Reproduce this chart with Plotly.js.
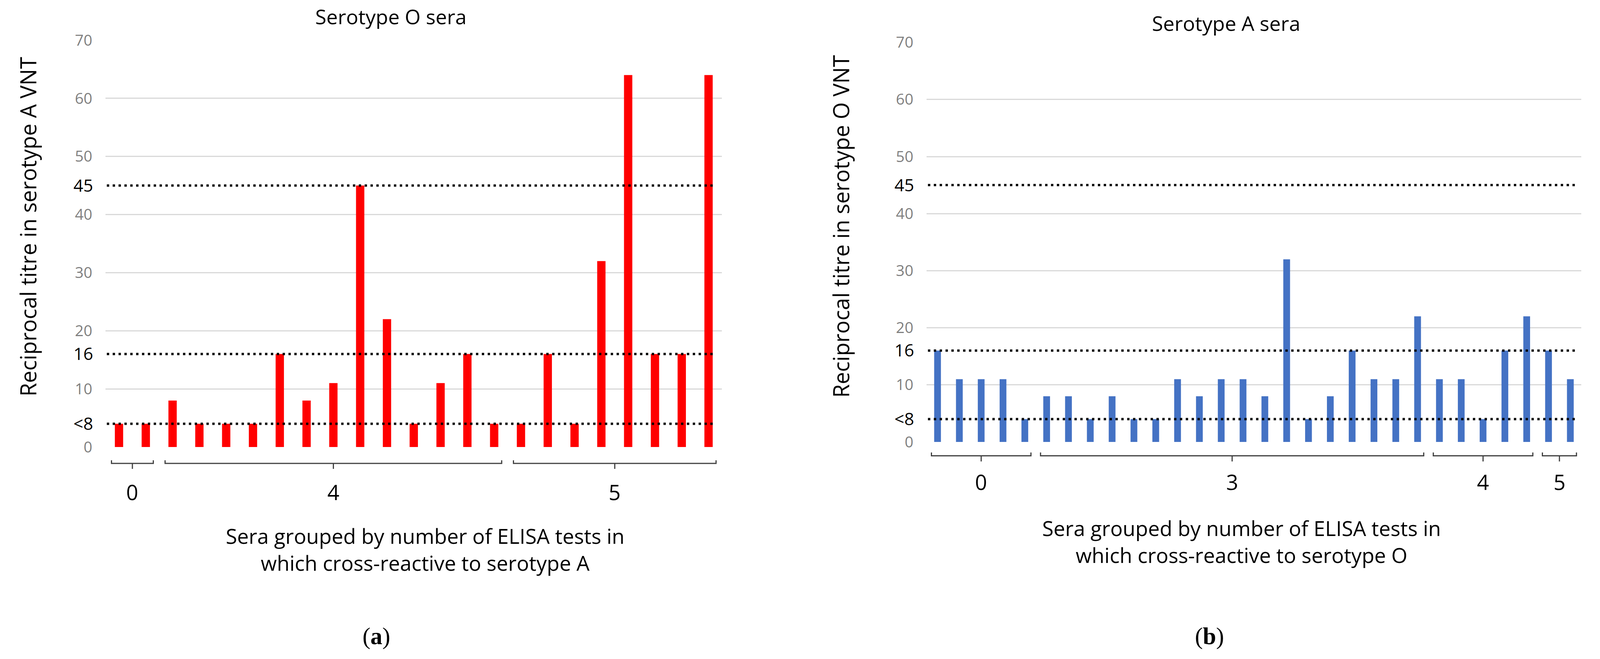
<!DOCTYPE html>
<html>
<head>
<meta charset="utf-8">
<script src="https://cdn.plot.ly/plotly-3.0.1.min.js"></script>
<style>
html,body{margin:0;padding:0;background:#fff;overflow:hidden;}
#chart{position:absolute;left:0;top:0;}
</style>
</head>
<body>
<div id="chart"></div>
<script>
// ---- data ----
const leftTitle = "Serotype O sera";
const rightTitle = "Serotype A sera";
const leftYTitle = "Reciprocal titre in serotype A VNT";
const rightYTitle = "Reciprocal titre in serotype O VNT";
const leftXTitle = "Sera grouped by number of ELISA tests in<br>which cross-reactive to serotype A";
const rightXTitle = "Sera grouped by number of ELISA tests in<br>which cross-reactive to serotype O";

// "<8" titres are plotted at the <8 reference level (4)
const leftValues = [4,4,8,4,4,4,16,8,11,45,22,4,11,16,4,4,16,4,32,64,16,16,64];
const leftGroupLabels = ["0","4","5"];
const leftGroupCounts = [2,13,8];

const rightValues = [16,11,11,11,4, 8,8,4,8,4,4,11,8,11,11,8,32,4,8,16,11,11,22, 11,11,4,16,22, 16,11];
const rightGroupLabels = ["0","3","4","5"];
const rightGroupCounts = [5,18,5,2];

const gridTicks = [0,10,20,30,40,50,60,70];
const thresholdVals = [4,16,45];
const thresholdText = ["<8","16","45"];
const yMax = 70;

// ---- layout helpers (reference frame 4182 x 1688) ----
const RW = 4182, RH = 1688;
const W = window.innerWidth || RW, H = window.innerHeight || RH;
const s = Math.min(W / RW, H / RH);
const FONT = "Open Sans, Noto Sans, sans-serif";
const px = v => v / RW;
const py = v => 1 - v / RH;
const fs = v => Math.round(v * s);

document.getElementById("chart").style.width = W + "px";
document.getElementById("chart").style.height = H + "px";

const panels = [
  {values: leftValues, counts: leftGroupCounts, labels: leftGroupLabels, color: "#FF0000",
   xd: [276, 1887], y0: 1145, y70: 103, xa: "x", ya: "y", yo: "y3",
   title: leftTitle, titleX: 1021, titleY: 41, yTitle: leftYTitle, yTitleX: 73, yTitleY: 580,
   xTitle: leftXTitle, xTitleX: 1111, xTitleY: 1407,
   brBase: 1187, brTop: 1179, brDrop: 1201, lblY: 1260, dotEnd: 0.986,
   panelLabel: "(<b>a</b>)", panelX: 984},
  {values: rightValues, counts: rightGroupCounts, labels: rightGroupLabels, color: "#4472C4",
   xd: [2422, 4133], y0: 1132, y70: 108.6, xa: "x2", ya: "y2", yo: "y4",
   title: rightTitle, titleX: 3205, titleY: 58, yTitle: rightYTitle, yTitleX: 2197, yTitleY: 580,
   xTitle: rightXTitle, xTitleX: 3245, xTitleY: 1387,
   brBase: 1167.5, brTop: 1159, brDrop: 1182, lblY: 1234, dotEnd: 0.992,
   panelLabel: "(<b>b</b>)", panelX: 3162}
];

const traces = [];
const shapes = [];
const annotations = [];
const layout = {
  width: W, height: H,
  margin: {l:0, r:0, t:0, b:0},
  paper_bgcolor: "#fff", plot_bgcolor: "#fff",
  showlegend: false,
  font: {family: FONT, color: "#000"},
  bargap: 0.69
};

panels.forEach((p, k) => {
  const n = p.values.length;
  const xs = p.values.map((_, i) => i);
  traces.push({type: "bar", x: xs, y: p.values, xaxis: p.xa, yaxis: p.ya,
    marker: {color: p.color, line: {width: 0}}, hoverinfo: "skip"});
  traces.push({type: "scatter", x: [0], y: [0], xaxis: p.xa, yaxis: p.yo,
    mode: "markers", marker: {opacity: 0}, hoverinfo: "skip"});

  const xname = k === 0 ? "xaxis" : "xaxis2";
  const yname = k === 0 ? "yaxis" : "yaxis2";
  const oname = k === 0 ? "yaxis3" : "yaxis4";
  const ydom = [py(p.y0), py(p.y70)];
  layout[xname] = {domain: [px(p.xd[0]), px(p.xd[1])], range: [-0.5, n - 0.5],
    showgrid: false, zeroline: false, showticklabels: false, showline: false, ticks: "",
    anchor: p.ya, fixedrange: true};
  layout[yname] = {domain: ydom, range: [0, yMax], anchor: p.xa,
    tickmode: "array", tickvals: gridTicks, ticktext: gridTicks.map(String),
    showgrid: true, gridcolor: "#d9d9d9", gridwidth: Math.max(2, fs(3)), zeroline: false, showline: false,
    ticks: "", ticklabelstandoff: fs(34),
    tickfont: {family: FONT, size: fs(40), color: "#7f7f7f"}, fixedrange: true};
  layout[oname] = {overlaying: p.ya, range: [0, yMax], anchor: p.xa, side: "left",
    tickmode: "array", tickvals: thresholdVals, ticktext: thresholdText,
    showgrid: false, zeroline: false, showline: false, ticks: "", ticklabelstandoff: fs(32),
    tickfont: {family: FONT, size: fs(45), color: "#000"}, fixedrange: true};

  thresholdVals.forEach(v => {
    shapes.push({type: "line", xref: p.xa + " domain", yref: p.ya,
      x0: 0.002, x1: p.dotEnd, y0: v, y1: v,
      line: {color: "#000", width: fs(6), dash: fs(6) + "px," + fs(9) + "px"}});
  });

  let start = 0;
  const pad = 0.28;
  p.counts.forEach((c, g) => {
    const a = start - pad, b = start + c - 1 + pad, m = (a + b) / 2;
    const yb = py(p.brBase), yt = py(p.brTop), yd = py(p.brDrop);
    shapes.push({type: "path", xref: p.xa, yref: "paper",
      path: `M${a},${yt} L${a},${yb} L${b},${yb} L${b},${yt} M${m},${yb} L${m},${yd}`,
      line: {color: "#404040", width: Math.max(2, fs(3))}});
    annotations.push({xref: p.xa, yref: "paper", x: m, y: py(p.lblY),
      text: p.labels[g], showarrow: false, xanchor: "center", yanchor: "middle",
      font: {family: FONT, size: fs(55), color: "#000"}});
    start += c;
  });

  annotations.push({xref: "paper", yref: "paper", x: px(p.titleX), y: py(p.titleY),
    text: p.title, showarrow: false, xanchor: "center", yanchor: "middle",
    font: {family: FONT, size: fs(53), color: "#000"}});
  annotations.push({xref: "paper", yref: "paper", x: px(p.yTitleX), y: py(p.yTitleY),
    text: p.yTitle, textangle: -90, showarrow: false, xanchor: "center", yanchor: "middle",
    font: {family: FONT, size: fs(57), color: "#000"}});
  annotations.push({xref: "paper", yref: "paper", x: px(p.xTitleX), y: py(p.xTitleY),
    text: p.xTitle, showarrow: false, xanchor: "center", yanchor: "middle",
    font: {family: FONT, size: fs(54), color: "#000"}});
  annotations.push({xref: "paper", yref: "paper", x: px(p.panelX), y: py(1630),
    text: p.panelLabel, showarrow: false, xanchor: "center", yanchor: "middle",
    font: {family: "Liberation Serif, serif", size: fs(62), color: "#000"}});
});

layout.shapes = shapes;
layout.annotations = annotations;

Plotly.newPlot("chart", traces, layout, {staticPlot: true, displayModeBar: false});
</script>
</body>
</html>
